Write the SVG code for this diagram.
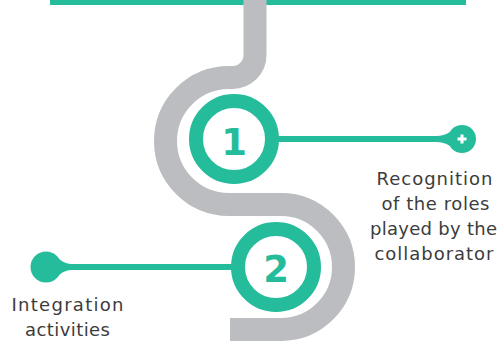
<svg xmlns="http://www.w3.org/2000/svg" width="502" height="341" viewBox="0 0 502 341">
<style>
.g{fill:#25bc9c}
.ring{fill:#fff;stroke:#25bc9c;stroke-width:14}
.num{font-family:"DejaVu Sans",sans-serif;font-weight:bold;font-size:37px;fill:#25bc9c;text-anchor:middle}
.lbl{font-family:"DejaVu Sans",sans-serif;font-size:18px;fill:#3c3c3c;text-anchor:middle}
.ln{stroke:#25bc9c;stroke-width:6;fill:none}
</style>
<rect x="50" y="0" width="416" height="5" class="g"/>
<g id="connectors">
<path d="M255,0 V55 A22.5,22.5 0 0 1 232.5,77.5 H229 A63.5,63.5 0 0 0 229,204.5 H281 A62.5,62.5 0 0 1 281,329.5 H230" fill="none" stroke="#bcbdc0" stroke-width="23"/>
<line x1="270" y1="139" x2="455" y2="139" class="ln"/>
<line x1="46" y1="267" x2="235" y2="267" class="ln"/>
</g>
<g id="node1">
<circle cx="234" cy="139" r="38" class="ring"/>
<text x="234" y="155" class="num">1</text>
</g>
<g id="node2">
<circle cx="276" cy="267" r="38" class="ring"/>
<text x="276" y="282" class="num">2</text>
</g>
<g id="dot1">
<circle cx="462" cy="139" r="14" class="g"/>
<path d="M436,136 Q444,136 450,132 L450,146 Q444,142 436,142 Z" class="g"/>
<path d="M462,134.5 V143.5 M457.5,139 H466.5" stroke="#fff" stroke-width="3"/>
<text class="lbl"><tspan x="434.5" y="185" textLength="116" lengthAdjust="spacing">Recognition</tspan><tspan x="435.5" y="210" textLength="108" lengthAdjust="spacing">of the roles</tspan><tspan x="433.5" y="235" textLength="127" lengthAdjust="spacing">played by the</tspan><tspan x="434" y="260" textLength="119" lengthAdjust="spacing">collaborator</tspan></text>
</g>
<g id="dot2">
<circle cx="46" cy="267" r="15.5" class="g"/>
<path d="M72,264 Q65,264 59,259 L59,275 Q65,270 72,270 Z" class="g"/>
<text class="lbl"><tspan x="67.5" y="311" textLength="112" lengthAdjust="spacing">Integration</tspan><tspan x="67.5" y="336" textLength="85" lengthAdjust="spacing">activities</tspan></text>
</g>
</svg>
